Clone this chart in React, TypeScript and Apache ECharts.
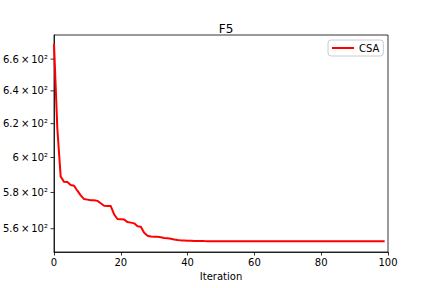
import React, { useEffect, useRef } from "react";
import * as echarts from "echarts";

const iterations: number[] = Array.from({ length: 100 }, (_, i) => i);
const csaValues: number[] = [
  670, 617, 589, 586, 585.9, 584.2, 583.8, 581, 578.4, 576.3,
  576, 575.7, 575.6, 575.3, 574, 572.6, 572.5, 572.4, 567.8, 565.3,
  565.2, 565, 563.6, 563.3, 562.9, 561.3, 561, 557.8, 556.2, 555.8,
  555.7, 555.6, 555.4, 555, 554.9, 554.6, 554.2, 553.9, 553.7, 553.6,
  553.5, 553.45, 553.4, 553.38, 553.35, 553.3, 553.28, 553.25, 553.25, 553.24,
  553.23, 553.22, 553.22, 553.21, 553.21, 553.2, 553.2, 553.2, 553.2, 553.2,
  553.2, 553.2, 553.2, 553.2, 553.2, 553.2, 553.2, 553.2, 553.2, 553.2,
  553.2, 553.2, 553.2, 553.2, 553.2, 553.2, 553.2, 553.2, 553.2, 553.2,
  553.2, 553.2, 553.2, 553.2, 553.2, 553.2, 553.2, 553.2, 553.2, 553.2,
  553.2, 553.2, 553.2, 553.2, 553.2, 553.2, 553.2, 553.2, 553.2, 553.2,
];
const yTickValues: number[] = [560, 580, 600, 620, 640, 660];
const yTickLabels: string[] = [
  "5.6\u2009×\u200910²",
  "5.8\u2009×\u200910²",
  "6\u2009×\u200910²",
  "6.2\u2009×\u200910²",
  "6.4\u2009×\u200910²",
  "6.6\u2009×\u200910²",
];
const seriesName = "CSA";
const titleText = "F5";
const xAxisName = "Iteration";

const FONT = "DejaVu Sans";

export default function App() {
  const ref = useRef<HTMLDivElement>(null);
  useEffect(() => {
    if (!ref.current) return;
    const chart = echarts.init(ref.current, null, { renderer: "svg" });
    chart.setOption({
      animation: false,
      backgroundColor: "#ffffff",
      title: {
        text: titleText,
        left: 221,
        textAlign: "center",
        top: 18,
        textStyle: { fontSize: 12, fontWeight: "normal", color: "#000", fontFamily: FONT },
      },
      legend: {
        data: [seriesName],
        left: 328,
        top: 40,
        icon: "rect",
        itemWidth: 22,
        itemHeight: 2,
        padding: [3, 4],
        borderColor: "#cccccc",
        borderWidth: 1,
        borderRadius: 3,
        backgroundColor: "rgba(255,255,255,0.8)",
        textStyle: { fontSize: 10, color: "#000", fontFamily: FONT },
      },
      grid: {
        left: 54,
        top: 35,
        width: 334,
        height: 217,
        show: true,
        borderColor: "#000",
        borderWidth: 0.8,
        containLabel: false,
      },
      xAxis: {
        type: "value",
        min: 0,
        max: 100,
        interval: 20,
        name: xAxisName,
        nameLocation: "middle",
        nameGap: 18,
        nameTextStyle: { fontSize: 10, color: "#000", fontFamily: FONT },
        axisLine: { show: true, lineStyle: { color: "#000", width: 0.8 } },
        axisTick: { show: true, inside: false, length: 3.5, lineStyle: { color: "#000", width: 0.8 } },
        axisLabel: { fontSize: 10, color: "#000", fontFamily: FONT, margin: 5 },
        splitLine: { show: false },
      },
      yAxis: {
        type: "log",
        logBase: 10,
        min: 547.5,
        max: 675.6,
        axisLine: { show: true, lineStyle: { color: "#000", width: 0.8 } },
        axisTick: { show: false },
        axisLabel: { show: false },
        splitLine: { show: false },
        minorTick: { show: false },
      },
      series: [
        {
          name: seriesName,
          type: "line",
          data: iterations.map((x, i) => [x, csaValues[i]]),
          showSymbol: false,
          symbol: "none",
          lineStyle: { color: "#ff0000", width: 2 },
          itemStyle: { color: "#ff0000" },
          z: 3,
        },
        {
          name: "yticks",
          type: "custom",
          clip: false,
          silent: true,
          data: yTickValues.map((v) => [0, v]),
          encode: { x: 0, y: 1 },
          renderItem: (params: any, api: any) => {
            const v = api.value(1);
            const p = api.coord([0, v]);
            const idx = params.dataIndex;
            return {
              type: "group",
              children: [
                {
                  type: "line",
                  shape: { x1: p[0] - 3.5, y1: p[1], x2: p[0], y2: p[1] },
                  style: { stroke: "#000", lineWidth: 0.8 },
                },
                {
                  type: "text",
                  x: p[0] - 6,
                  y: p[1],
                  style: {
                    text: yTickLabels[idx],
                    align: "right",
                    verticalAlign: "middle",
                    fontSize: 10,
                    fill: "#000",
                    fontFamily: FONT,
                  },
                },
              ],
            };
          },
        },
      ],
    });
    return () => chart.dispose();
  }, []);
  return <div ref={ref} style={{ width: 432, height: 288, position: "absolute", left: 0, top: 0 }} />;
}
